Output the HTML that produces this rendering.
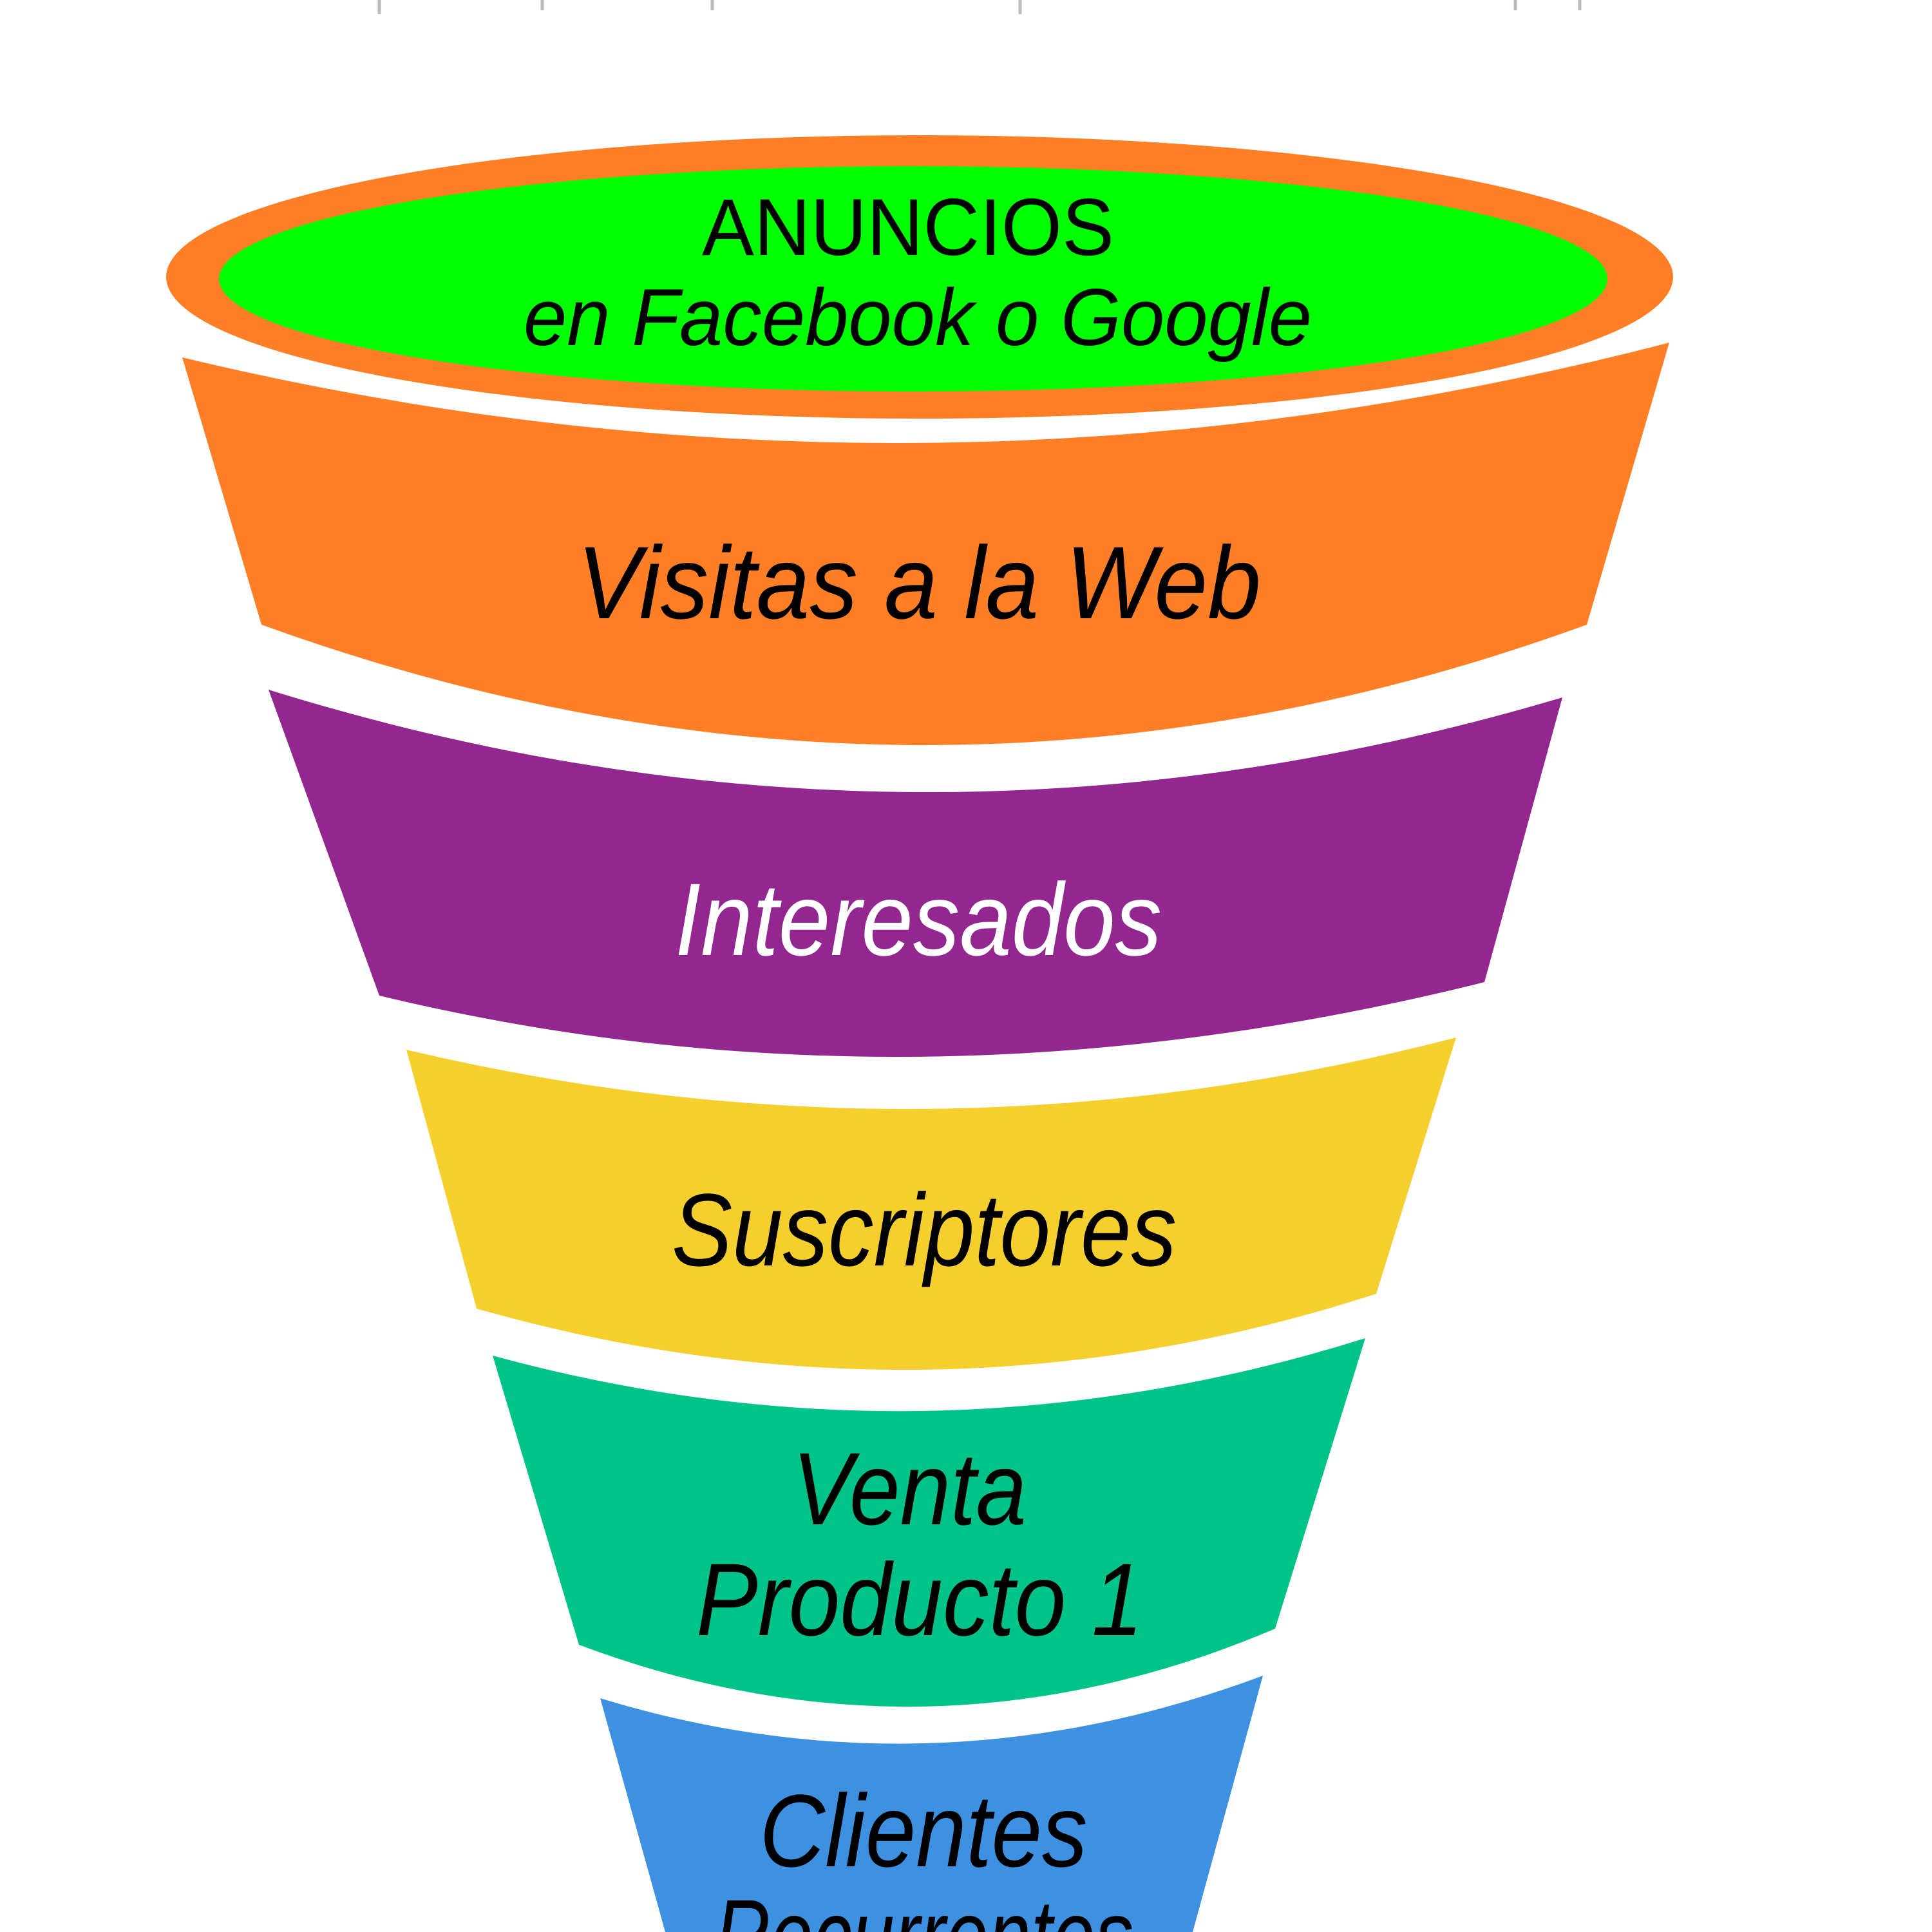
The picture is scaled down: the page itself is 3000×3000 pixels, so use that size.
<!DOCTYPE html>
<html><head><meta charset="utf-8"><style>
html,body{margin:0;padding:0;background:#fff;width:3000px;height:3000px;overflow:hidden}
svg{display:block}
text{font-family:"Liberation Sans",sans-serif;font-style:italic;text-anchor:middle}
</style></head><body>
<svg width="3000" height="3000" viewBox="0 0 3000 3000" xmlns="http://www.w3.org/2000/svg">
<rect width="3000" height="3000" fill="#fff"/>
<g stroke="#bbb" stroke-width="5">
<line x1="589" y1="0" x2="589" y2="22"/><line x1="842" y1="0" x2="842" y2="16"/><line x1="1106" y1="0" x2="1106" y2="16"/>
<line x1="1584" y1="0" x2="1584" y2="22"/><line x1="2353" y1="0" x2="2353" y2="16"/><line x1="2453" y1="0" x2="2453" y2="16"/>
</g>
<ellipse cx="1428" cy="430" rx="1170" ry="220" fill="#FF7F27"/>
<ellipse cx="1418" cy="433" rx="1078" ry="175" fill="#00FF00"/>
<text x="1410" y="396" font-size="125" style="font-style:normal" textLength="640" lengthAdjust="spacingAndGlyphs">ANUNCIOS</text>
<text x="1425" y="536" font-size="125" textLength="1224" lengthAdjust="spacingAndGlyphs">en Facebook o Google</text>
<path d="M283 555 Q1437 832 2592 532 L2464 970 Q1437 1344 406 970 Z" fill="#FF7F27"/>
<text x="1427" y="960" font-size="160" textLength="1062" lengthAdjust="spacingAndGlyphs">Visitas a la Web</text>
<path d="M417 1071 Q1420 1383 2426 1083 L2305 1525 Q1420 1746 589 1546 Z" fill="#92278F"/>
<text x="1426" y="1483" font-size="160" fill="#fff" textLength="756" lengthAdjust="spacingAndGlyphs">Interesados</text>
<path d="M631 1630 Q1446 1823 2261 1611 L2137 2009 Q1446 2233 740 2032 Z" fill="#F5CF2E"/>
<text x="1435" y="1965" font-size="160" textLength="784" lengthAdjust="spacingAndGlyphs">Suscriptores</text>
<path d="M765 2105 Q1442 2290 2120 2078 L1980 2529 Q1442 2758 899 2554 Z" fill="#00C389"/>
<text x="1412" y="2367" font-size="160" textLength="364" lengthAdjust="spacingAndGlyphs">Venta</text>
<text x="1428" y="2539" font-size="160" textLength="694" lengthAdjust="spacingAndGlyphs">Producto 1</text>
<path d="M932 2637 Q1446 2794 1961 2602 L1852 3000 L1033 3000 Z" fill="#3E91E0"/>
<text x="1434" y="2898" font-size="160" textLength="509" lengthAdjust="spacingAndGlyphs">Clientes</text>
<text x="1435" y="3061" font-size="160" textLength="650" lengthAdjust="spacingAndGlyphs">Recurrentes</text>
</svg>
</body></html>
